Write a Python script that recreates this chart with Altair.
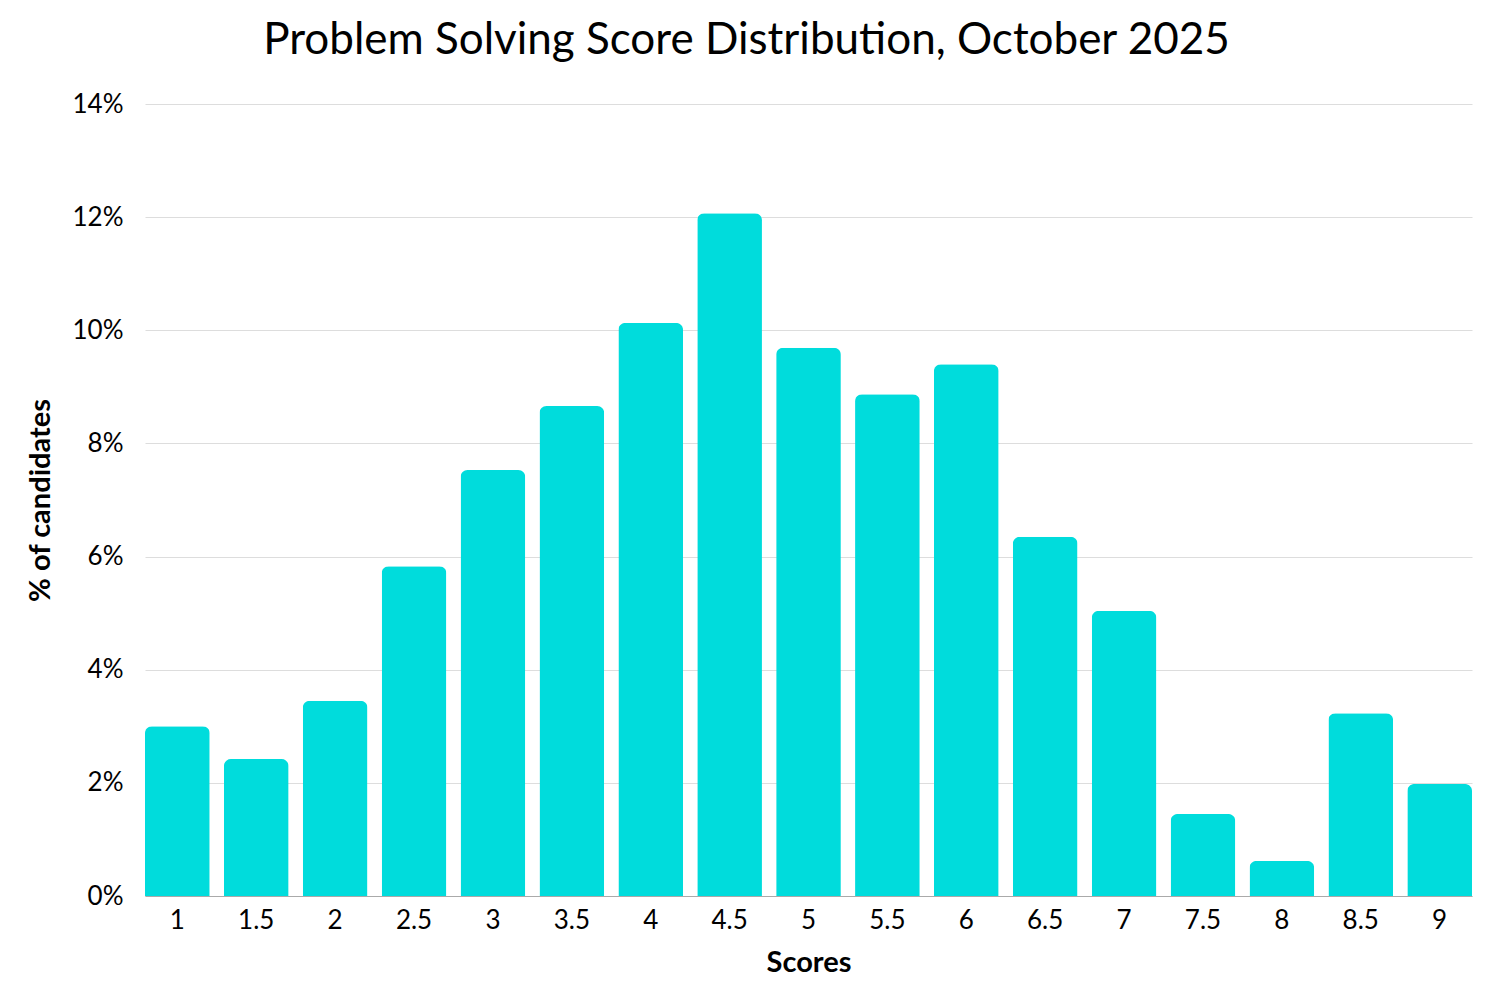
import pandas as pd
import altair as alt

scores = ["1", "1.5", "2", "2.5", "3", "3.5", "4", "4.5", "5",
          "5.5", "6", "6.5", "7", "7.5", "8", "8.5", "9"]
pct_candidates = [3.0, 2.42, 3.45, 5.83, 7.53, 8.66, 10.13, 12.07, 9.69,
                  8.87, 9.40, 6.35, 5.04, 1.45, 0.62, 3.23, 1.98]

df = pd.DataFrame({"score": scores, "pct": pct_candidates})

FONT = "Lato"

chart = alt.Chart(df).mark_bar(
    color="#00DCDC",
    cornerRadiusTopLeft=7,
    cornerRadiusTopRight=7,
).encode(
    x=alt.X("score:N", sort=scores, title="Scores",
            scale=alt.Scale(paddingInner=0.18, paddingOuter=0),
            axis=alt.Axis(labelAngle=0, ticks=False, labelPadding=11,
                          labelFontSize=26, labelColor="#000",
                          domainColor="#aaaaaa", domainWidth=1,
                          titleFontSize=29, titleFontWeight="bold",
                          titleColor="#000", titleY=66,
                          titleBaseline="middle")),
    y=alt.Y("pct:Q", title="% of candidates",
            scale=alt.Scale(domain=[0, 14], nice=False),
            axis=alt.Axis(values=[0, 2, 4, 6, 8, 10, 12, 14],
                          labelExpr="datum.value + '%'",
                          ticks=False, domain=False, labelPadding=22,
                          labelFontSize=26, labelColor="#000",
                          gridColor="#dddddd", gridWidth=1,
                          titleFontSize=29, titleFontWeight="bold",
                          titleColor="#000", titleX=-105,
                          titleBaseline="middle")),
).properties(
    width=1327,
    height=792,
    autosize=alt.AutoSizeParams(type="none"),
    padding={"left": 137, "top": 96, "right": 20, "bottom": 80},
    title=alt.TitleParams(
        "Problem Solving Score Distribution, October 2025",
        fontSize=44, fontWeight="normal", font=FONT, color="#000",
        anchor="middle", dx=-62, offset=28,
    ),
).configure(
    font=FONT,
).configure_view(
    stroke=None,
)

chart.save("out.html", embed_options={"renderer": "svg", "actions": False})
